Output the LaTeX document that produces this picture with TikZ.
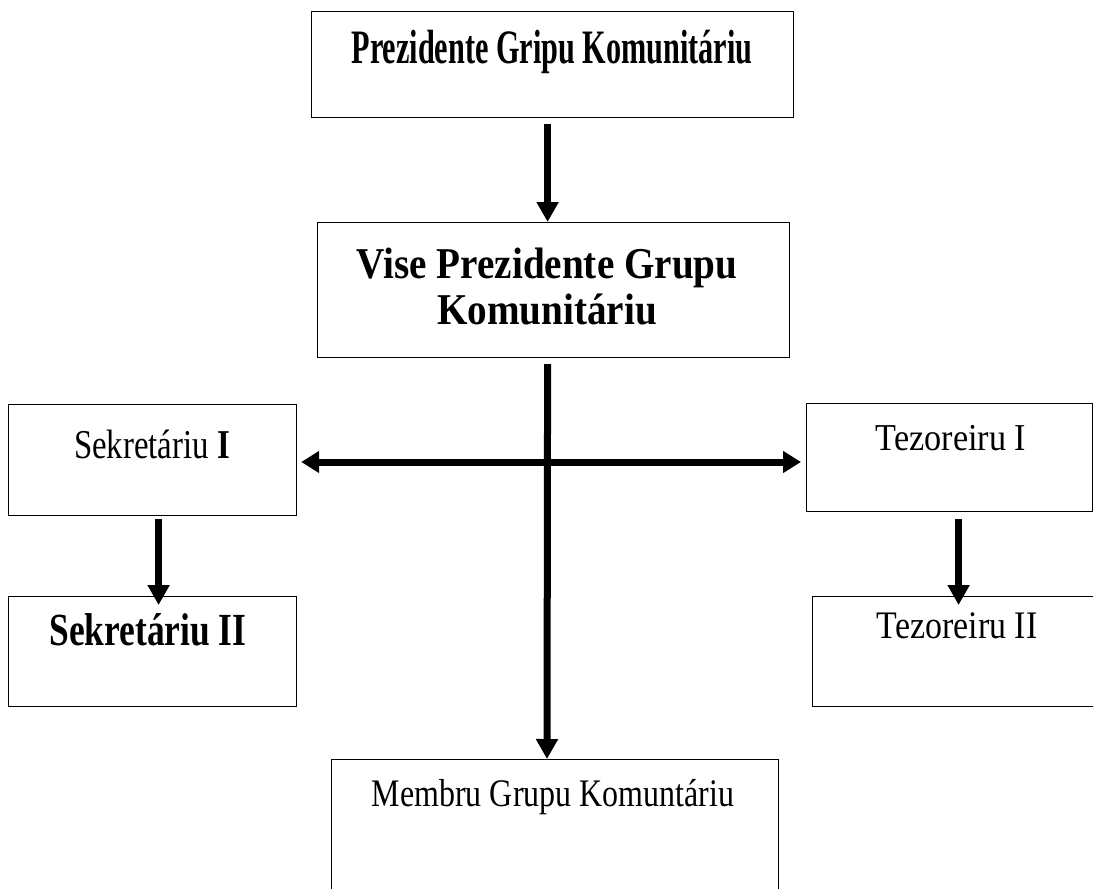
\documentclass[tikz,border=0pt]{standalone}
\usepackage{fontspec}
\setmainfont{Liberation Serif}
\usepackage{graphicx}
\usetikzlibrary{arrows.meta}
\newcommand{\sq}[3]{\scalebox{#1}[1]{\fontsize{#2}{#2}\selectfont #3}}
\tikzset{
  box/.style={draw=black, line width=1.2pt, fill=white, inner sep=0pt, anchor=north west},
  lbl/.style={inner sep=0pt, anchor=base},
  arr/.style={line width=7pt, -{Triangle[width=21pt,length=20pt]}},
  darr/.style={line width=7pt, {Triangle[width=21pt,length=18pt]}-{Triangle[width=21pt,length=18pt]}},
}
\begin{document}
\begin{tikzpicture}[x=1pt,y=-1pt]
\useasboundingbox (0,0) rectangle (1093,889);
\begin{scope}
\clip (0,0) rectangle (1093,889);
% boxes
\node[box, minimum width=482pt, minimum height=106pt] (p1) at (311,11) {};
\node[box, minimum width=472pt, minimum height=135pt] (p2) at (317,222) {};
\node[box, minimum width=288pt, minimum height=111pt] (s1) at (8,404) {};
\node[box, minimum width=288pt, minimum height=110pt] (s2) at (8,596) {};
\node[box, minimum width=286pt, minimum height=108pt] (t1) at (806,403) {};
\node[box, minimum width=300pt, minimum height=110pt] (t2) at (812,596) {};
\node[box, minimum width=447pt, minimum height=160pt] (m) at (331,759) {};
\end{scope}
% labels
\node[lbl] (p1t) at (552,63) {\sq{0.63}{48pt}{\bfseries Prezidente Gripu Komunitáriu}};
\node[lbl] (p2t) at (547,278) {\sq{0.89}{44pt}{\bfseries Vise Prezidente Grupu}};
\node[lbl] (p2u) at (547,324) {\sq{0.89}{44pt}{\bfseries Komunitáriu}};
\node[lbl] (s1t) at (152,458) {\sq{0.8}{41pt}{Sekretáriu \textbf{I}}};
\node[lbl] (s2t) at (148,645) {\sq{0.77}{46pt}{\bfseries Sekretáriu II}};
\node[lbl] (t1t) at (951,450) {\sq{0.9}{38pt}{Tezoreiru I}};
\node[lbl] (t2t) at (957,638) {\sq{0.87}{39pt}{Tezoreiru II}};
\node[lbl] (mt) at (553,806) {\sq{0.82}{39pt}{Membru Grupu Komuntáriu}};
% connectors
\coordinate (cx) at (547,462);
\draw[arr] ([xshift=-5pt,yshift=-6pt]p1.south) -- ([xshift=-6pt]p2.north);
\draw[arr] ([xshift=-6pt,yshift=-6pt]p2.south) -- (m.north -| cx);
\draw[darr] ([xshift=4pt]s1.east |- cx) -- ([xshift=-5pt]t1.west |- cx);
\draw[arr] ([xshift=6pt,yshift=-3pt]s1.south) -- ([xshift=6pt,yshift=-9pt]s2.north);
\draw[arr] ([xshift=9pt,yshift=-7pt]t1.south) -- ([xshift=-4pt,yshift=-9pt]t2.north);
\end{tikzpicture}
\end{document}
